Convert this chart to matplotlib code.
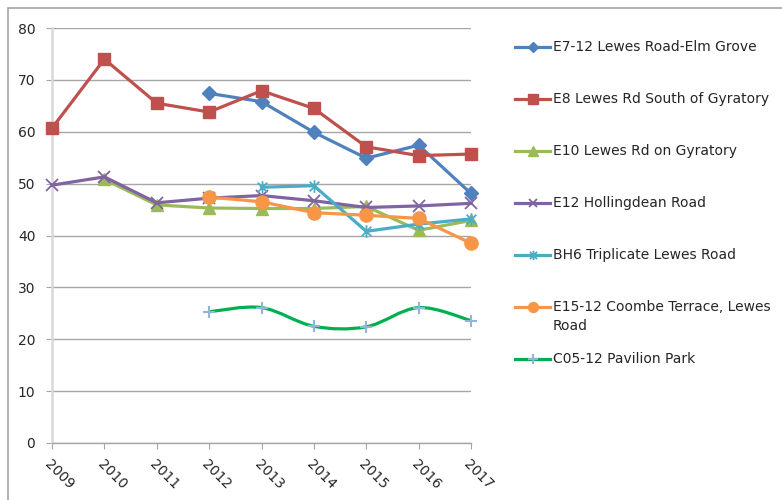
import numpy as np
import matplotlib
matplotlib.use("Agg")
import matplotlib.pyplot as plt
from matplotlib.lines import Line2D
from matplotlib.path import Path
from matplotlib.patches import PathPatch, Rectangle

plt.rcParams['font.family'] = ['DejaVu Sans']

years = [2009, 2010, 2011, 2012, 2013, 2014, 2015, 2016, 2017]
nan = np.nan
e7 = [nan, nan, nan, 67.4, 65.8, 59.9, 54.9, 57.4, 48.1]
e8 = [60.7, 74.0, 65.5, 63.8, 67.9, 64.5, 57.1, 55.4, 55.7]
e10 = [nan, 50.8, 45.9, 45.3, 45.2, 45.2, 45.6, 41.0, 42.9]
e12 = [49.7, 51.3, 46.3, 47.2, 47.7, 46.7, 45.4, 45.7, 46.2]
bh6 = [nan, nan, nan, nan, 49.3, 49.6, 40.8, 42.2, 43.2]
e15 = [nan, nan, nan, 47.4, 46.5, 44.4, 43.9, 43.3, 38.5]
c05 = [nan, nan, nan, 25.3, 26.1, 22.5, 22.4, 26.1, 23.6]

labels = ["E7-12 Lewes Road-Elm Grove", "E8 Lewes Rd South of Gyratory",
          "E10 Lewes Rd on Gyratory", "E12 Hollingdean Road",
          "BH6 Triplicate Lewes Road", "E15-12 Coombe Terrace, Lewes\nRoad",
          "C05-12 Pavilion Park"]
yticks = [0, 10, 20, 30, 40, 50, 60, 70, 80]

# asterisk marker (x plus vertical bar)
star = Path([(-1, -1), (1, 1), (-1, 1), (1, -1), (0, -1.3), (0, 1.3)],
            [Path.MOVETO, Path.LINETO, Path.MOVETO, Path.LINETO, Path.MOVETO, Path.LINETO])

styles = [
    dict(color='#4F81BD', marker='D', ms=7, mfc='#4F81BD', mec='#4F81BD'),
    dict(color='#C0504D', marker='s', ms=9, mfc='#C0504D', mec='#C0504D'),
    dict(color='#9BBB59', marker='^', ms=9, mfc='#9BBB59', mec='#9BBB59'),
    dict(color='#8064A2', marker='x', ms=8, mec='#8064A2', mew=1.3),
    dict(color='#4BACC6', marker=star, ms=9, mec='#4BACC6', mew=1.3),
    dict(color='#F79646', marker='o', ms=9.5, mfc='#F79646', mec='#F79646'),
    dict(color='#00B050', marker='+', ms=9, mec='#95B3D7', mew=1.5),
]
series = [e7, e8, e10, e12, bh6, e15, c05]

W, H = 782, 500
fig = plt.figure(figsize=(W / 100, H / 100), dpi=100)
ax = fig.add_axes([52 / W, (H - 443) / H, (471 - 52) / W, (443 - 28) / H])

x = np.array(years, dtype=float)

def smooth_path(xs, ys, t=1 / 6):
    pts = np.column_stack([xs, ys])
    verts = [pts[0]]
    codes = [Path.MOVETO]
    n = len(pts)
    for i in range(n - 1):
        p0 = pts[i - 1] if i > 0 else pts[i]
        p1 = pts[i]
        p2 = pts[i + 1]
        p3 = pts[i + 2] if i + 2 < n else pts[i + 1]
        c1 = p1 + (p2 - p0) * t
        c2 = p2 - (p3 - p1) * t
        verts += [c1, c2, p2]
        codes += [Path.CURVE4] * 3
    return Path(verts, codes)

for i, (ys, st) in enumerate(zip(series, styles)):
    ys = np.array(ys, dtype=float)
    m = ~np.isnan(ys)
    if i == 6:
        patch = PathPatch(smooth_path(x[m], ys[m]), fill=False, ec=st['color'], lw=2.3,
                          zorder=2, capstyle='round')
        ax.add_patch(patch)
        ax.plot(x[m], ys[m], ls='none', marker=st['marker'], ms=st['ms'], mec=st['mec'],
                mew=st['mew'], zorder=3, clip_on=False)
    else:
        ax.plot(x[m], ys[m], color=st['color'], lw=2.3, marker=st['marker'], ms=st['ms'],
                mfc=st.get('mfc', 'none'), mec=st['mec'], mew=st.get('mew', 1),
                zorder=3, clip_on=False, solid_joinstyle='round')

ax.set_xlim(2009, 2017)
ax.set_ylim(0, 80)
ax.set_yticks(yticks)
ax.set_xticks(years)
ax.set_xticklabels([str(y) for y in years], rotation=-45, ha='left', va='top',
                   rotation_mode='anchor')
ax.grid(axis='y', color='#A6A6A6', lw=1)
ax.set_axisbelow(True)
for s in ['top', 'right']:
    ax.spines[s].set_visible(False)
ax.spines['left'].set_color('#D9D9D9')
ax.spines['left'].set_linewidth(1.8)
ax.spines['bottom'].set_color('#A6A6A6')
ax.spines['bottom'].set_linewidth(1)
ax.tick_params(axis='y', length=4, color='#A6A6A6', labelsize=10, pad=8, labelcolor='#262626')
ax.tick_params(axis='x', length=4, color='#A6A6A6', labelsize=10, pad=6, labelcolor='#262626')

# outer chart border
fig.add_artist(Rectangle((8 / W, -0.1), 1.2, (H - 8) / H + 0.1, transform=fig.transFigure,
                         fill=False, ec='#A6A6A6', lw=1.2))

# legend
leg_y = [47, 99, 151, 203, 255, 307, 359]
for yy, lab, st in zip(leg_y, labels, styles):
    fy = 1 - yy / H
    line = Line2D([515 / W, 550 / W], [fy, fy], transform=fig.transFigure,
                  color=st['color'], lw=2.3)
    fig.add_artist(line)
    mk = Line2D([532.5 / W], [fy], transform=fig.transFigure, ls='none',
                marker=st['marker'], ms=st['ms'] * 0.75, mfc=st.get('mfc', 'none'),
                mec=st['mec'], mew=st.get('mew', 1))
    fig.add_artist(mk)
    fig.text(553 / W, fy + 7 / H, lab, ha='left', va='top', fontsize=10,
             color='#262626', linespacing=1.45)

fig.savefig("out.png", dpi=100)
